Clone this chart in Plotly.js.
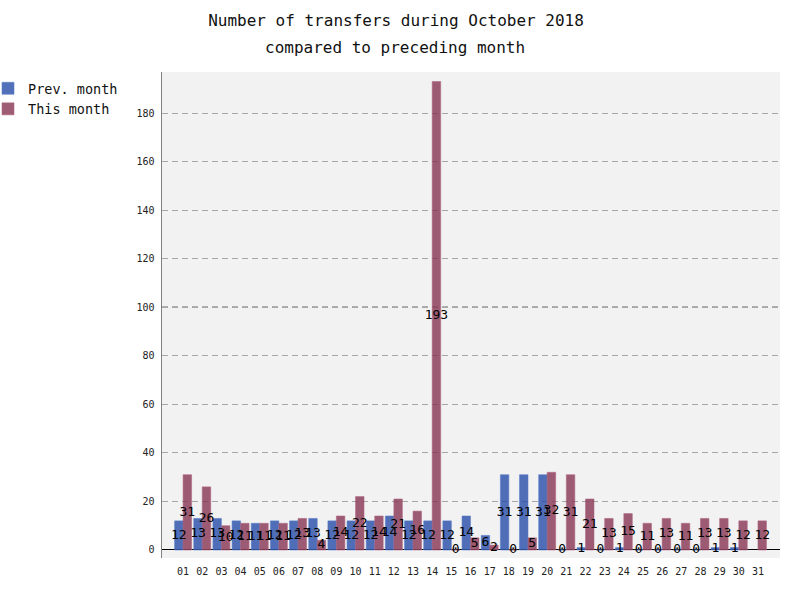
<!DOCTYPE html>
<html>
<head>
<meta charset="utf-8">
<script src="https://cdn.plot.ly/plotly-3.0.1.min.js"></script>
<style>html,body{margin:0;padding:0;background:#fff;}#chart{width:800px;height:600px;}</style>
</head>
<body>
<div id="chart"></div>
<script>
const days = ['01','02','03','04','05','06','07','08','09','10','11','12','13','14','15','16','17','18','19','20','21','22','23','24','25','26','27','28','29','30','31'];
const prevMonth = [12,13,13,12,11,12,12,13,12,12,12,14,12,12,12,14,6,31,31,31,0,1,0,1,0,0,0,0,1,1,null];
const thisMonth = [31,26,10,11,11,11,13,4,14,22,14,21,16,193,0,5,2,0,5,32,31,21,13,15,11,13,11,13,13,12,12];
const yTicks = [0,20,40,60,80,100,120,140,160,180];
const refLine = 100;
const titleLine1 = 'Number of transfers during October 2018';
const titleLine2 = 'compared to preceding month';
const seriesNames = ['Prev. month','This month'];

const FONT = 'DejaVu Sans Mono, monospace';
const BARGAP = 0.114;
const half = (1 - BARGAP) / 4;
const idx = days.map((d, i) => i);

const colors = {
  prev: 'rgba(37,76,167,0.8)', prevLine: 'rgba(90,125,200,0.55)',
  cur: 'rgba(135,52,83,0.8)', curLine: 'rgba(175,100,130,0.55)'
};

function labelTrace(vals, shift) {
  const xs = [], ys = [], ts = [];
  vals.forEach((v, i) => {
    if (v === null || v === undefined) return;
    xs.push(i + shift); ys.push(v / 2); ts.push(String(v));
  });
  return {type: 'scatter', mode: 'text', x: xs, y: ys, text: ts, showlegend: false, hoverinfo: 'skip',
    textposition: 'middle center', textfont: {family: FONT, size: 13, color: '#000'}, cliponaxis: false};
}

const data = [
  {type: 'bar', name: seriesNames[0], x: idx, y: prevMonth,
   marker: {color: colors.prev, line: {color: colors.prevLine, width: 1}}},
  {type: 'bar', name: seriesNames[1], x: idx, y: thisMonth,
   marker: {color: colors.cur, line: {color: colors.curLine, width: 1}}},
  labelTrace(prevMonth, -half),
  labelTrace(thisMonth, half)
];

const layout = {
  width: 800, height: 600,
  margin: {l: 162, r: 20, t: 72, b: 42, autoexpand: false},
  paper_bgcolor: '#ffffff', plot_bgcolor: '#f2f2f2',
  barmode: 'group', bargap: BARGAP, bargroupgap: 0,
  font: {family: FONT, color: '#000'},
  title: {text: titleLine1, xref: 'container', x: 396/800, xanchor: 'center',
          yref: 'container', y: 1 - 20/600, yanchor: 'middle', font: {family: FONT, size: 16, color: '#111'}},
  annotations: [{text: titleLine2, xref: 'paper', x: (395-162)/618, xanchor: 'center',
                 yref: 'paper', y: (558-47)/486, yanchor: 'middle', showarrow: false,
                 font: {family: FONT, size: 16, color: '#111'}}],
  xaxis: {range: [-1.1, 31.15], tickmode: 'array', tickvals: idx, ticktext: days,
          showgrid: false, zeroline: false, showline: false, ticks: '',
          ticklabelstandoff: 6, tickfont: {family: FONT, size: 10, color: '#222'}, fixedrange: true},
  yaxis: {range: [-3.3, 196.9], tickmode: 'array', tickvals: yTicks,
          showgrid: true, gridcolor: '#a6a6a6', griddash: '6px,4px', gridwidth: 1,
          zeroline: true, zerolinecolor: '#000', zerolinewidth: 1,
          showline: true, linecolor: '#808080', linewidth: 1.5, mirror: false,
          ticks: '', ticklabelstandoff: 4, tickfont: {family: FONT, size: 10, color: '#222'}, fixedrange: true},
  shapes: [{type: 'line', layer: 'below', xref: 'paper', x0: 0, x1: 1, yref: 'y', y0: refLine, y1: refLine,
            line: {color: '#000', width: 1, dash: '6px,4px'}}],
  legend: {x: (-12-162)/618, xanchor: 'left', y: (558-73)/486, yanchor: 'top',
           bgcolor: 'rgba(0,0,0,0)', font: {family: FONT, size: 13.5, color: '#111'},
           traceorder: 'normal', tracegroupgap: 0, itemwidth: 30},
  showlegend: true
};

Plotly.newPlot('chart', data, layout, {staticPlot: true, displayModeBar: false});
</script>
</body>
</html>
